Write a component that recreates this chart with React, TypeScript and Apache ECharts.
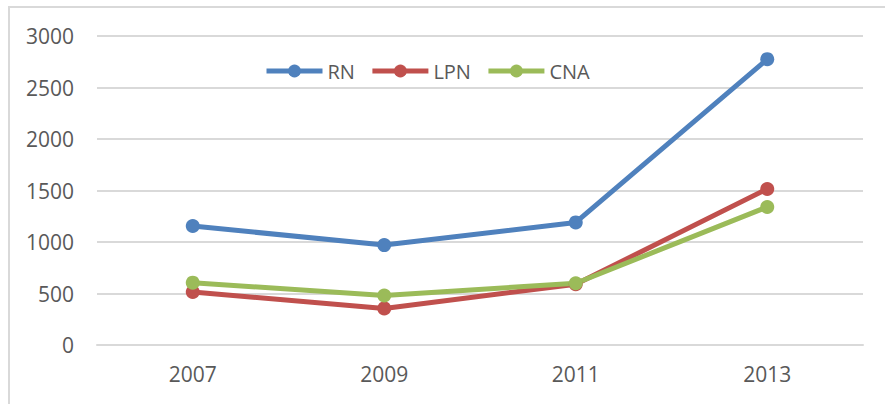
import React, { useEffect, useRef } from "react";
import * as echarts from "echarts";

const categories = ["2007", "2009", "2011", "2013"];
const rnValues = [1155, 970, 1190, 2775];
const lpnValues = [515, 355, 590, 1515];
const cnaValues = [605, 480, 600, 1340];
const yTicks = [0, 500, 1000, 1500, 2000, 2500, 3000];

const FONT = "'Open Sans', sans-serif";

export default function App() {
  const ref = useRef<HTMLDivElement>(null);
  useEffect(() => {
    if (!ref.current) return;
    const chart = echarts.init(ref.current, undefined, { renderer: "svg" });
    const mk = (name: string, data: number[], color: string) => ({
      name,
      type: "line",
      data,
      symbol: "circle",
      symbolSize: 14,
      lineStyle: { width: 5, color },
      itemStyle: { color },
      z: 3,
    });
    chart.setOption({
      animation: false,
      backgroundColor: "#ffffff",
      textStyle: { fontFamily: FONT },
      graphic: [
        {
          type: "rect",
          shape: { x: 9, y: 7, width: 900, height: 420 },
          style: { fill: "none", stroke: "#d9d9d9", lineWidth: 2 },
          z: -1,
        },
      ],
      legend: {
        left: 259,
        top: 56,
        itemWidth: 56,
        itemHeight: 16,
        itemGap: 15,
        lineStyle: { width: 5 },
        textStyle: { fontSize: 20, color: "#595959", fontFamily: FONT },
        data: ["RN", "LPN", "CNA"],
      },
      grid: {
        left: 97,
        right: 22,
        top: 36,
        bottom: 59,
        outerBoundsMode: "none",
        containLabel: false,
      },
      xAxis: {
        type: "category",
        data: categories,
        boundaryGap: true,
        axisLine: { show: true, lineStyle: { color: "#d9d9d9", width: 2 } },
        axisTick: { show: false },
        axisLabel: { fontSize: 21, color: "#595959", margin: 18, fontFamily: FONT },
      },
      yAxis: {
        type: "value",
        min: yTicks[0],
        max: yTicks[yTicks.length - 1],
        interval: 500,
        axisLine: { show: false },
        axisTick: { show: false },
        splitLine: { lineStyle: { color: "#d9d9d9", width: 2 } },
        axisLabel: {
          fontSize: 21,
          color: "#595959",
          margin: 23,
          fontFamily: FONT,
          formatter: (v: number) => String(v),
        },
      },
      series: [
        mk("RN", rnValues, "#4F81BD"),
        mk("LPN", lpnValues, "#C0504D"),
        mk("CNA", cnaValues, "#9BBB59"),
      ],
    });
    return () => chart.dispose();
  }, []);
  return (
    <div
      ref={ref}
      style={{ position: "fixed", left: 0, top: 0, width: 885, height: 404 }}
    />
  );
}
